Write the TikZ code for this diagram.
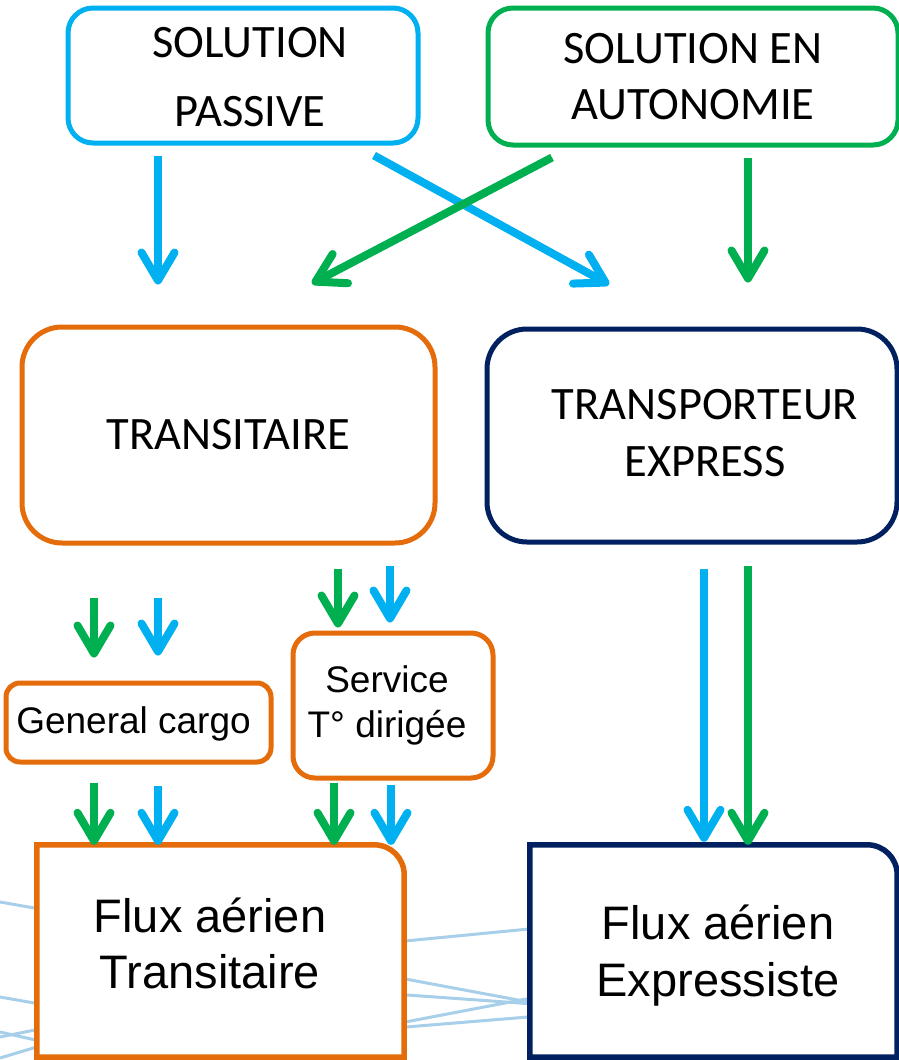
\documentclass[tikz,border=0pt]{standalone}
\usepackage{fontspec}
\usepackage{tikz}
\usetikzlibrary{arrows.meta}
\newfontfamily\calib{Carlito}
\newfontfamily\arial{Liberation Sans}
\newcommand\capfont{\calib\fontsize{46.5}{56}\selectfont}
\newcommand\subfont{\arial\fontsize{37}{45}\selectfont}
\newcommand\fluxfont{\arial\fontsize{47}{56}\selectfont}
\definecolor{skyblue}{HTML}{00B0F0}
\definecolor{grn}{HTML}{00B050}
\definecolor{tranorange}{HTML}{E46C0A}
\definecolor{navy}{HTML}{002060}
\definecolor{paleblue}{HTML}{A8CFEA}
\tikzset{
  box/.style={line width=5pt,fill=white,inner sep=0pt,align=center},
  txt/.style={inner sep=0pt,align=center},
  fl/.style={line width=8pt,->},
  bgline/.style={paleblue,line width=3pt},
}

\begin{document}
\begin{tikzpicture}[x=1pt,y=-1pt,>={Straight Barb[length=28pt,width=33pt,round]}]
        \useasboundingbox (0,0) rectangle (899,1060);
        % background lines
        \draw[bgline](400,941.5)--(534,928.5);
        \draw[bgline](400,978)--(534,1003);
        \draw[bgline](400,994.5)--(534,1004);
        \draw[bgline](400,1023)--(534,997.5);
        \draw[bgline](400,1027.5)--(534,1016.5);
        \draw[bgline](0,902)--(40,909);
        \draw[bgline](0,997)--(40,1004);
        \draw[bgline](0,1037)--(40,1029);
        \draw[bgline](0,1032)--(40,1041);
        \draw[bgline](0,1058)--(40,1046);
        % solutions
        \node[box,draw=skyblue,rounded corners=25pt,minimum width=350pt,minimum height=135pt](pas)at(243,75.5){};
        \node[txt,font=\capfont](pastxt)at([xshift=7pt,yshift=-2pt]pas.center){SOLUTION\\[13pt]PASSIVE};
        \node[box,draw=grn,rounded corners=25pt,minimum width=410pt,minimum height=137pt,font=\capfont](auto)at(693,76.5){SOLUTION EN\\AUTONOMIE};
        % acteurs
        \node[box,draw=tranorange,rounded corners=40pt,minimum width=413pt,minimum height=216pt,font=\capfont](trans)at(228.5,435){TRANSITAIRE};
        \node[box,draw=navy,rounded corners=40pt,minimum width=410pt,minimum height=213pt](expr)at(692,435.5){};
        \node[txt,font=\capfont](exprtxt)at([xshift=13pt,yshift=2.5pt]expr.center){TRANSPORTEUR\\[1pt]EXPRESS};
        % services
        \node[box,draw=tranorange,rounded corners=14pt,minimum width=265pt,minimum height=79pt](gc)at(138.5,722.5){};
        \node[txt,font=\subfont](gctxt)at([xshift=-5pt,yshift=-1pt]gc.center){General cargo};
        \node[box,draw=tranorange,rounded corners=22pt,minimum width=200pt,minimum height=145pt](serv)at(393,705.5){};
        \node[txt,font=\subfont](servtxt)at([xshift=-6pt]serv.center){Service\\T° dirigée};
        % flux
        \node[fill=white,inner sep=0pt,minimum width=367pt,minimum height=212pt](fluxt)at(220.5,951){};
        \draw[tranorange,line width=5.5pt](fluxt.south west)--(fluxt.north west)--([xshift=-30pt]fluxt.north east)
            .. controls ([xshift=-13.4pt]fluxt.north east) and ([yshift=-13.4pt]fluxt.north east) .. ([yshift=-30pt]fluxt.north east)--(fluxt.south east)--cycle;
        \node[txt,font=\fluxfont](fluxttxt)at([xshift=-10.5pt,yshift=8pt]fluxt.center){Flux aérien\\Transitaire};
        \node[fill=white,inner sep=0pt,minimum width=367pt,minimum height=212pt](fluxe)at(713.5,951){};
        \draw[navy,line width=5.5pt](fluxe.south west)--(fluxe.north west)--([xshift=-30pt]fluxe.north east)
            .. controls ([xshift=-13.4pt]fluxe.north east) and ([yshift=-13.4pt]fluxe.north east) .. ([yshift=-30pt]fluxe.north east)--(fluxe.south east)--cycle;
        \node[txt,font=\fluxfont](fluxetxt)at([xshift=4.5pt,yshift=-5pt]fluxe.center){Flux aérien\\[1pt]Expressiste};
        % fleches du haut
        \draw[fl,skyblue]([xshift=-85pt,yshift=-10pt]pas.south)--([xshift=-70.5pt,yshift=40pt]trans.north);
        \draw[fl,skyblue]([xshift=131pt,yshift=-10pt]pas.south)--([xshift=-83pt,yshift=42pt]expr.north);
        \draw[fl,grn]([xshift=-141pt,yshift=-10pt]auto.south)--([xshift=83.5pt,yshift=41pt]trans.north);
        \draw[fl,grn]([xshift=55pt,yshift=-10pt]auto.south)--([xshift=56pt,yshift=44pt]expr.north);
        % fleches du milieu
        \draw[fl,grn]([xshift=-134.5pt,yshift=-52pt]trans.south)--([xshift=-44.5pt,yshift=23pt]gc.north);
        \draw[fl,skyblue]([xshift=-70.5pt,yshift=-52pt]trans.south)--([xshift=19.5pt,yshift=25pt]gc.north);
        \draw[fl,grn]([xshift=109.5pt,yshift=-23pt]trans.south)--([xshift=-55pt,yshift=3pt]serv.north);
        \draw[fl,skyblue]([xshift=161.5pt,yshift=-20pt]trans.south)--([xshift=-3pt,yshift=8pt]serv.north);
        \draw[fl,grn]([xshift=-44.5pt,yshift=-18pt]gc.south)--([xshift=-126.5pt]fluxt.north);
        \draw[fl,skyblue]([xshift=19.5pt,yshift=-21pt]gc.south)--([xshift=-62.5pt]fluxt.north);
        \draw[fl,grn]([xshift=-59pt,yshift=-2pt]serv.south)--([xshift=113.5pt]fluxt.north);
        \draw[fl,skyblue]([xshift=-2pt,yshift=-4pt]serv.south)--([xshift=170.5pt]fluxt.north);
        % fleches express
        \draw[fl,skyblue]([xshift=12pt,yshift=-24pt]expr.south)--([xshift=-9.5pt,yshift=3pt]fluxe.north);
        \draw[fl,grn]([xshift=56pt,yshift=-21pt]expr.south)--([xshift=34.5pt]fluxe.north);
    \end{tikzpicture}
\end{document}
